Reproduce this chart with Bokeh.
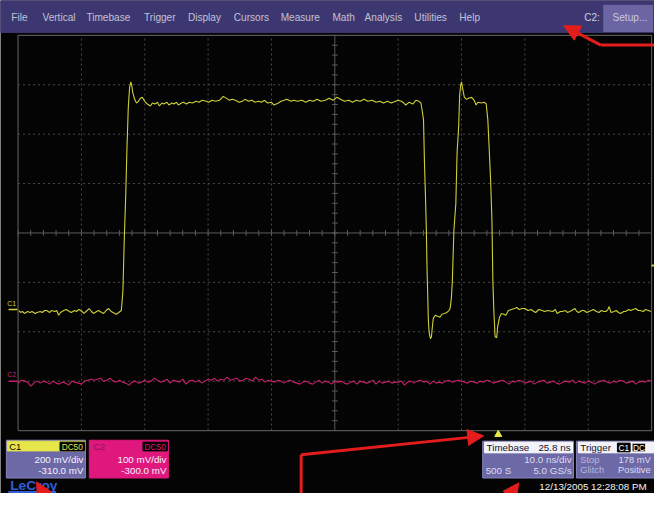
import numpy as np
from bokeh.plotting import figure
from bokeh.models import Range1d, Arrow, NormalHead
from bokeh.core.properties import value
from bokeh.embed import file_html
from bokeh.resources import INLINE

# ---------------- scope settings ----------------
TIMEBASE_NS_PER_DIV = 10.0
TRIGGER_DELAY_NS = 25.8
TRIGGER_LEVEL_MV = 178.0
C1_MV_PER_DIV = 200.0
C1_OFFSET_MV = -310.0
C2_MV_PER_DIV = 100.0
C2_OFFSET_MV = -300.0

# ---------------- C1 trace (ns, mV) ----------------
c1_time_ns = [
    -49.9, -49.6, -49.3, -49.0, -48.5, -48.1, -47.8, -47.3, -47.0, -46.5, -46.2, -45.8, -45.5, -45.0,
    -44.7, -44.2, -43.9, -43.6, -43.3, -42.8, -42.4, -41.9, -41.6, -41.1, -40.8, -40.4, -39.9, -39.6,
    -39.1, -38.8, -38.4, -38.1, -37.6, -37.3, -36.8, -36.5, -36.1, -35.7, -35.3, -35.0, -34.5, -34.1,
    -33.7, -33.45, -33.25, -33.0, -32.8, -32.6, -32.4, -32.2, -32.05, -31.9, -31.6, -31.3, -31.0,
    -30.7, -30.4, -30.0, -29.6, -29.1, -28.8, -28.4, -28.0, -27.7, -27.3, -27.0, -26.5, -26.2, -25.7,
    -25.4, -25.0, -24.7, -24.2, -23.9, -23.4, -23.0, -22.5, -21.9, -21.4, -21.0, -20.3, -19.9, -19.4,
    -18.8, -18.2, -17.6, -17.1, -16.6, -16.2, -15.7, -15.1, -14.6, -14.2, -13.6, -13.1, -12.6, -12.0,
    -11.6, -11.1, -10.6, -10.0, -9.6, -8.9, -8.5, -8.0, -7.6, -6.9, -6.5, -5.9, -5.2, -4.6, -4.0, -3.4,
    -2.8, -2.2, -1.5, -0.9, -0.3, 0.3, 0.9, 1.5, 2.2, 2.8, 3.4, 4.0, 4.6, 5.2, 5.9, 6.5, 7.1, 7.7, 8.3,
    8.9, 9.6, 10.0, 10.5, 10.9, 11.2, 11.7, 12.0, 12.3, 12.8, 13.3, 13.6, 13.75, 14.0, 14.15, 14.3,
    14.45, 14.55, 14.65, 14.75, 14.85, 14.95, 15.1, 15.25, 15.4, 15.55, 15.9, 16.2, 16.6, 16.9, 17.3,
    17.7, 18.0, 18.2, 18.4, 18.55, 18.8, 19.1, 19.3, 19.55, 19.7, 19.85, 20.0, 20.15, 20.45, 20.8,
    21.1, 21.6, 22.0, 22.3, 22.6, 23.1, 23.6, 23.9, 24.15, 24.3, 24.6, 24.8, 24.95, 25.1, 25.3, 25.55,
    25.7, 26.0, 26.3, 26.7, 27.0, 27.4, 27.9, 28.4, 28.7, 29.1, 29.6, 30.0, 30.5, 31.0, 31.4, 31.7,
    32.2, 32.7, 33.1, 33.6, 34.4, 34.8, 35.1, 35.6, 35.9, 36.4, 36.7, 37.1, 37.4, 37.9, 38.2, 38.5,
    39.0, 39.3, 39.8, 40.1, 40.5, 40.8, 41.3, 41.7, 42.1, 42.5, 42.8, 43.1, 43.3, 43.6, 44.1, 44.4,
    44.8, 45.1, 45.6, 45.9, 46.4, 46.7, 47.1, 47.5, 47.9, 48.2, 48.7, 49.0, 49.5, 49.9,
]
c1_mv = [
    -4, -12, -8, -16, -8, -12, -8, -16, -12, -8, -12, -4, -4, -12,
    -4, -8, -4, -23, -12, -4, 0, -8, -12, -4, -8, 0, -8, -16,
    -4, 4, -8, -16, -8, -4, -12, -16, -4, 4, -8, -12, -19, -12,
    -4, 75, 271, 467, 663, 820, 898, 922, 906, 879, 851, 836, 843,
    855, 859, 843, 832, 824, 836, 832, 839, 824, 836, 832, 839, 828, 836,
    832, 839, 828, 836, 839, 832, 839, 836, 843, 839, 847, 843, 839, 847,
    843, 847, 863, 855, 847, 851, 847, 839, 843, 851, 843, 847, 839, 843,
    839, 847, 836, 839, 828, 836, 843, 847, 851, 843, 847, 843, 847, 839, 847, 843,
    851, 843, 847, 855, 847, 859, 851, 843, 847, 839, 847, 843, 851, 843, 847, 839, 843, 836, 843,
    836, 843, 847, 843, 836, 828, 839, 836, 832, 847, 843, 836, 812, 769, 596, 467,
    322, 173, 75, -31, -82, -102, -118, -110, -70, -35, -23, -27, -31, -19, -16,
    -12, -4, 4, 47, 114, 322, 428, 636, 741, 867, 906, 922, 898, 859, 851,
    855, 859, 847, 828, 839, 836, 839, 832, 769, 690, 518, 361, 114, -4, -110, -114,
    -70, -31, -16, -19, -23, -4, 0, 4, 8, 0, 4, 4, -4, 0, -8, -12,
    0, -4, -8, -4, -8, 0, -16, -8, -8, -4, -12, -8, -4, 4, -8, -12,
    -4, -4, -12, -8, -4, 0, -8, -12, -4, -8, -8, 0, 12, -12, -8, -4,
    -12, -16, -8, -8, 0, -4, 0, 4, -4, -4, -8, 0, -4, -8,
]

# ---------------- C2 trace (0.5 ns sampling, mV) ----------------
c2_t0_ns = -50.0
c2_dt_ns = 0.5
c2_mv = [
    -4, 2, 0, -2, -10, -4, 0, -4, 0, -2, -6, 0, -4, -6, -2, -4, -8, 0, -2, -4,
    -6, 0, 2, 4, 2, 4, 6, 0, 2, 6, 0, -2, 2, -2, -4, -8, -2, 0, -4, -2,
    2, -2, 0, 6, 2, -2, 0, 4, -4, 2, 0, -2, 4, -6, 0, 2, -2, 2, -4, 0,
    4, 2, 6, 0, 4, 2, 8, 2, 4, 6, 0, 2, 6, 4, 0, 8, 2, 4, -2, 2,
    0, -2, 2, 0, -4, 0, 2, -2, -4, -6, -2, 0, -4, -6, -2, 2, -4, 0, -2, -6,
    0, -2, 0, -4, -6, -2, 0, -6, 0, -2, -4, -2, 2, -6, 0, -4, -2, 0, -4, -2,
    -2, 0, -8, -2, 0, -4, 0, 2, -2, 0, -6, 0, -4, -2, -4, 0, 2, -2, 0, 2,
    0, -2, -4, 0, -2, -4, 0, -2, 2, 0, -4, -2, 0, 2, -2, -6, 0, -2, 2, 0,
    -4, -2, 0, -6, -2, 0, 2, -4, -2, 0, -4, -6, -2, 0, -2, 2, -4, 0, -2, -4,
    0, -2, -6, -2, 0, 2, -2, -4, 0, -2, 2, 0, -4, -2, 0, -6, -2, 0, -2, 2,
    0,
]

# ---------------- UI texts ----------------
menu_items = ["File", "Vertical", "Timebase", "Trigger", "Display", "Cursors",
              "Measure", "Math", "Analysis", "Utilities", "Help"]
date_text = "12/13/2005 12:28:08 PM"

# ---------------- layout (reference pixel space 670 x 509) ----------------
REF_W, REF_H = 670, 509
W, H = 654, 493
S = W / REF_W
GL, GR, GT, GB = 18.0, 667.0, 36.0, 444.0
px_per_div_x = (GR - GL) / 10.0
px_per_div_y = (GB - GT) / 8.0
ns_per_px = TIMEBASE_NS_PER_DIV / px_per_div_x
T_START = -5 * TIMEBASE_NS_PER_DIV - GL * ns_per_px
T_END = 5 * TIMEBASE_NS_PER_DIV + (REF_W - GR) * ns_per_px
V_TOP = 4 + GT / px_per_div_y
V_BOTTOM = -4 - (REF_H - GB) / px_per_div_y

FONT = "Liberation Sans"
YELLOW = "#d0d03a"
PINK = "#c8206e"
RED = "#e41c1c"
PANEL = "#6d68a6"
MENU = "#3c3771"

p = figure(width=W, height=H, x_range=Range1d(T_START, T_END), y_range=Range1d(V_BOTTOM, V_TOP),
           output_backend="svg", toolbar_location=None, title=None,
           x_axis_location=None, y_axis_location=None,
           background_fill_color="#040404", border_fill_color="#040404",
           outline_line_color=None, min_border=0)
p.min_border_left = p.min_border_right = p.min_border_top = p.min_border_bottom = 0
p.grid.visible = False
p.extra_x_ranges = {"px": Range1d(0, REF_W)}
p.extra_y_ranges = {"py": Range1d(REF_H, 0)}

half = 5 * TIMEBASE_NS_PER_DIV
# ---- graticule ----
vt = [k * TIMEBASE_NS_PER_DIV for k in range(-4, 5) if k != 0]
p.segment(x0=vt, y0=[-4] * len(vt), x1=vt, y1=[4] * len(vt),
          line_color="#4a4a4a", line_width=1, line_dash="2 3")
hv = [k for k in range(-3, 4) if k != 0]
p.segment(x0=[-half] * len(hv), y0=hv, x1=[half] * len(hv), y1=hv,
          line_color="#4a4a4a", line_width=1, line_dash="2 3")
p.segment(x0=[0, -half], y0=[-4, 0], x1=[0, half], y1=[4, 0], line_color="#5a5a5a", line_width=1)
tx = [t for t in np.arange(-half, half + 0.01, TIMEBASE_NS_PER_DIV / 5)]
p.segment(x0=tx, y0=[-0.06] * len(tx), x1=tx, y1=[0.06] * len(tx), line_color="#5a5a5a")
ty = [v for v in np.arange(-4, 4.01, 0.2)]
p.segment(x0=[-0.46] * len(ty), y0=ty, x1=[0.46] * len(ty), y1=ty, line_color="#5a5a5a")
p.line(x=[-half, half, half, -half, -half], y=[-4, -4, 4, 4, -4], line_color="#555555", line_width=1.2)

# ---- traces ----
c1_div = [(v + C1_OFFSET_MV) / C1_MV_PER_DIV for v in c1_mv]
c2_time_ns = [c2_t0_ns + i * c2_dt_ns for i in range(len(c2_mv))]
c2_div = [(v + C2_OFFSET_MV) / C2_MV_PER_DIV for v in c2_mv]
p.line(c2_time_ns, c2_div, line_color=PINK, line_width=1.1)
p.line(c1_time_ns, c1_div, line_color=YELLOW, line_width=1.1)

# ground markers
g1 = C1_OFFSET_MV / C1_MV_PER_DIV
g2 = C2_OFFSET_MV / C2_MV_PER_DIV
p.segment(x0=[-half - 1.5, -half - 1.5], y0=[g1, g2], x1=[-half - 0.1, -half - 0.1], y1=[g1, g2],
          line_color=[YELLOW, PINK], line_width=1.5)
p.text(x=[-half - 1.7, -half - 1.7], y=[g1 + 0.06, g2 + 0.06], text=["C1", "C2"],
       text_color=[YELLOW, PINK], text_font=value(FONT), text_font_size=value(f"{7*S:.1f}px"),
       text_align="left", text_baseline="bottom")
# trigger level marker and trigger position marker
tl = (TRIGGER_LEVEL_MV + C1_OFFSET_MV) / C1_MV_PER_DIV
p.segment(x0=[half], y0=[tl], x1=[half + 0.5], y1=[tl], line_color=YELLOW, line_width=2)
p.scatter(x=[TRIGGER_DELAY_NS], y=[-4 - 4 / px_per_div_y], marker="triangle", size=7,
          fill_color="#e8e84a", line_color="#e8e84a")

R = dict(x_range_name="px", y_range_name="py")


def txt(xs, ys, texts, color, size, align="left", baseline="middle", style="normal"):
    p.text(x=xs, y=ys, text=texts, text_color=color, text_font=value(FONT),
           text_font_size=value(f"{size*S:.1f}px"), text_align=align, text_baseline=baseline,
           text_font_style=style, **R)


def box(l, r, t, b, fill, line=None):
    p.quad(left=[l], right=[r], top=[t], bottom=[b], fill_color=fill,
           line_color=line if line else fill, line_width=1, **R)


# ---- menu bar ----
box(0, REF_W, 0, 33, MENU)
menu_x = [11, 43, 88, 147, 192, 239, 287, 340, 373, 424, 470]
txt(menu_x, [18] * len(menu_items), menu_items, "#c2c2d6", 10.3)
txt([598], [18], ["C2:"], "#d0d0e0", 10.3)
box(618, 668, 5, 32, "#6b66a3")
txt([627], [18], ["Setup..."], "#c8c8e0", 10.3)

# ---- channel descriptor boxes ----
box(6, 87, 454, 493, PANEL, "#8884be")
box(7, 86, 455, 465, "#e6e64a")
box(61, 86, 456, 465, "#000000")
txt([9], [460.5], ["C1"], "#000000", 9.5)
txt([73.5], [460.8], ["DC50"], "#e6e64a", 8.5, align="center")
txt([85, 85], [474, 485], [f"{C1_MV_PER_DIV:.0f} mV/div", f"{C1_OFFSET_MV:.1f} mV"], "#f4f4ff", 10, align="right")

box(91, 172, 454, 493, "#e0177c")
box(146, 171, 456, 465, "#000000")
txt([95], [460.5], ["C2"], "#8a1460", 9.5)
txt([158.5], [460.8], ["DC50"], "#e0177c", 8.5, align="center")
txt([170, 170], [474, 485], [f"{C2_MV_PER_DIV:.0f} mV/div", f"{C2_OFFSET_MV:.1f} mV"], "#f4f4ff", 10, align="right")

# ---- timebase box ----
box(494, 587, 455, 493, PANEL, "#8884be")
box(496, 586, 456, 467, "#f2f2f8", "#ffffff")
txt([498], [461.5], ["Timebase"], "#14142a", 10)
txt([584], [461.5], [f"{TRIGGER_DELAY_NS:.1f} ns"], "#14142a", 10, align="right")
txt([585], [474], [f"{TIMEBASE_NS_PER_DIV:.1f} ns/div"], "#dcdcf0", 10, align="right")
txt([497], [485], ["500 S"], "#dcdcf0", 10)
txt([585], [485], ["5.0 GS/s"], "#dcdcf0", 10, align="right")

# ---- trigger box ----
box(590, 676, 455, 493, PANEL, "#8884be")
box(592, 676, 456, 467, "#f2f2f8", "#ffffff")
txt([594], [461.5], ["Trigger"], "#14142a", 10)
box(632, 645, 457, 466, "#000000")
box(647, 661, 457, 466, "#000000", "#ffffff")
txt([638.5], [461.8], ["C1"], "#ffffff", 8.5, align="center")
txt([654], [461.8], ["DC"], "#ffffff", 8.5, align="center")
txt([594, 594], [474, 485], ["Stop", "Glitch"], "#b8b8dc", 9.5)
txt([666], [474], [f"{TRIGGER_LEVEL_MV:.0f} mV"], "#dcdcf0", 9.5, align="right")
txt([666], [485], ["Positive"], "#dcdcf0", 9.5, align="right")

txt([552], [502], [date_text], "#f4f4f4", 10)

# ---- logo ----
txt([10], [501], ["LeCroy"], "#2f5fd8", 14, style="bold")
p.line(x=[8, 57], y=[507.5, 507.5], line_color="#2f5fd8", line_width=2, **R)

# ---- red annotation arrows ----
p.line(x=[REF_W, 615], y=[46, 46], line_color=RED, line_width=3, **R)
p.line(x=[308, 308], y=[REF_H + 5, 469], line_color=RED, line_width=3, **R)
for xs, ys, xe, ye in [(615, 46, 577, 26), (308, 469, 495, 449.5), (47, 515, 37, 497), (519, 515, 531, 498)]:
    p.add_layout(Arrow(x_start=xs, y_start=ys, x_end=xe, y_end=ye, line_color=RED, line_width=3,
                       end=NormalHead(size=16, fill_color=RED, line_color=RED), **R))

open("out.html", "w").write(file_html(p, INLINE))
